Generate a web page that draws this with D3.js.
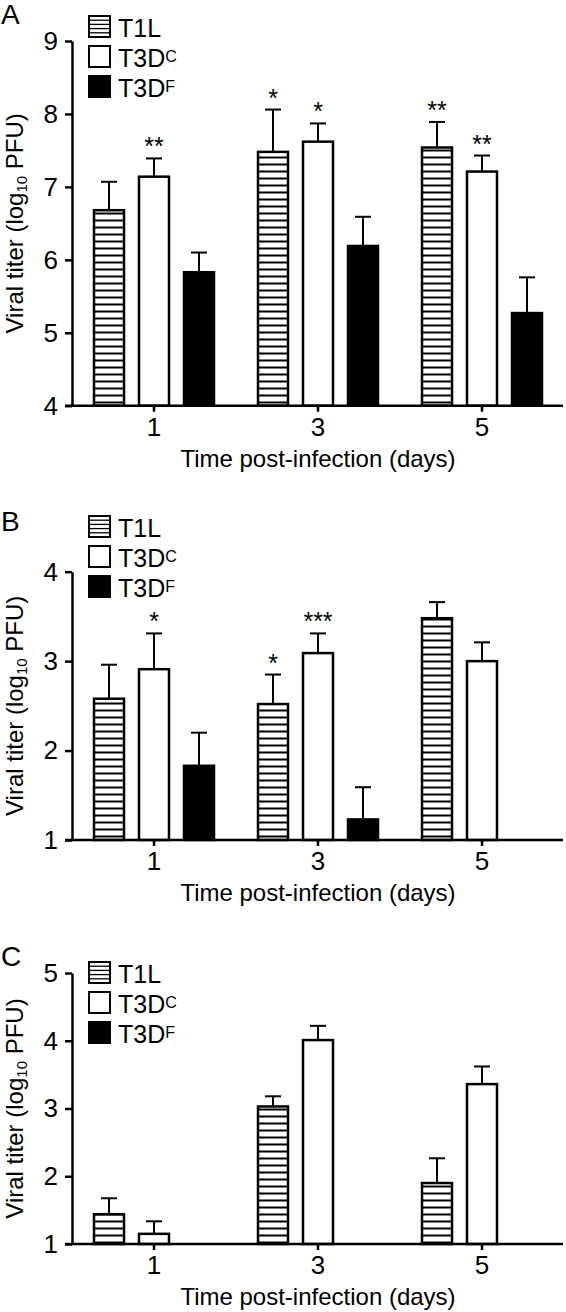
<!DOCTYPE html>
<html><head><meta charset="utf-8">
<script src="https://cdn.jsdelivr.net/npm/d3@7"></script>
<style>
body{margin:0;background:#fff}
svg{display:block}
text{font-family:"Liberation Sans",Arial,Helvetica,sans-serif;fill:#000}
</style>
</head><body>
<svg id="c" width="566" height="1312"></svg>
<script>
// ---------- data ----------
const days = ["1", "3", "5"];
const seriesKeys = ["T1L", "T3DC", "T3DF"];
const seriesBase = ["T1L", "T3D", "T3D"];
const seriesSup = ["", "C", "F"];

const ticksA = [4, 5, 6, 7, 8, 9];
const ticksB = [1, 2, 3, 4];
const ticksC = [1, 2, 3, 4, 5];

// Panel A (mean, SEM)
const A_T1L = [6.68, 7.48, 7.54];
const A_T1L_err = [0.39, 0.58, 0.35];
const A_T3DC = [7.14, 7.62, 7.21];
const A_T3DC_err = [0.25, 0.25, 0.22];
const A_T3DF = [5.83, 6.19, 5.27];
const A_T3DF_err = [0.27, 0.40, 0.49];
const A_stars_T1L = ["", "*", "**"];
const A_stars_T3DC = ["**", "*", "**"];
const A_stars_T3DF = ["", "", ""];

// Panel B
const B_T1L = [2.58, 2.52, 3.48];
const B_T1L_err = [0.38, 0.33, 0.18];
const B_T3DC = [2.91, 3.09, 3.00];
const B_T3DC_err = [0.40, 0.22, 0.21];
const B_T3DF = [1.83, 1.23, null];
const B_T3DF_err = [0.37, 0.36, null];
const B_stars_T1L = ["", "*", ""];
const B_stars_T3DC = ["*", "***", ""];
const B_stars_T3DF = ["", "", ""];

// Panel C
const C_T1L = [1.44, 3.03, 1.90];
const C_T1L_err = [0.235, 0.15, 0.365];
const C_T3DC = [1.15, 4.01, 3.36];
const C_T3DC_err = [0.185, 0.21, 0.26];
const C_T3DF = [null, null, null];
const C_T3DF_err = [null, null, null];
const C_stars_T1L = ["", "", ""];
const C_stars_T3DC = ["", "", ""];
const C_stars_T3DF = ["", "", ""];

const panelLabels = ["A", "B", "C"];
const xTitle = "Time post-infection (days)";

// ---------- layout ----------
const panels = [
  {label: "A", domain: [4, 9], ticks: ticksA, yBottom: 405.7, yTop: 41, legendTop: 16, labelY: 24,
   vals: [A_T1L, A_T3DC, A_T3DF], errs: [A_T1L_err, A_T3DC_err, A_T3DF_err], stars: [A_stars_T1L, A_stars_T3DC, A_stars_T3DF]},
  {label: "B", domain: [1, 4], ticks: ticksB, yBottom: 840, yTop: 571.7, legendTop: 516, labelY: 531,
   vals: [B_T1L, B_T3DC, B_T3DF], errs: [B_T1L_err, B_T3DC_err, B_T3DF_err], stars: [B_stars_T1L, B_stars_T3DC, B_stars_T3DF]},
  {label: "C", domain: [1, 5], ticks: ticksC, yBottom: 1244, yTop: 973, legendTop: 962, labelY: 966,
   vals: [C_T1L, C_T3DC, C_T3DF], errs: [C_T1L_err, C_T3DC_err, C_T3DF_err], stars: [C_stars_T1L, C_stars_T3DC, C_stars_T3DF]}
];

const svg = d3.select("#c");
const defs = svg.append("defs");
const pat = defs.append("pattern").attr("id", "hstripe")
  .attr("patternUnits", "userSpaceOnUse").attr("width", 10).attr("height", 7);
pat.append("rect").attr("width", 10).attr("height", 7).attr("fill", "#fff");
pat.append("rect").attr("y", 2.5).attr("width", 10).attr("height", 2).attr("fill", "#000");

const fills = ["url(#hstripe)", "#fff", "#000"];
const axisX0 = 72, axisX1 = 564;

panels.forEach(p => {
  const g = svg.append("g");
  const y = d3.scaleLinear().domain(p.domain).range([p.yBottom, p.yTop]);
  const x = d3.scaleBand().domain(days).range([axisX0, axisX1]);
  const xs = d3.scaleBand().domain(seriesKeys).range([0, x.bandwidth()])
    .paddingInner(1 / 3).paddingOuter(0.489);
  const base = p.domain[0];

  // bars
  seriesKeys.forEach((s, si) => {
    days.forEach((d, di) => {
      const v = p.vals[si][di];
      if (v == null) return;
      const bx = x(d) + xs(s);
      const cx = bx + xs.bandwidth() / 2;
      const e = p.errs[si][di];
      const top = y(v + e);
      // error bar
      g.append("line").attr("x1", cx).attr("x2", cx).attr("y1", y(v)).attr("y2", top)
        .attr("stroke", "#000").attr("stroke-width", 2);
      g.append("line").attr("x1", cx - 8).attr("x2", cx + 8).attr("y1", top).attr("y2", top)
        .attr("stroke", "#000").attr("stroke-width", 2);
      g.append("rect").attr("x", bx).attr("y", y(v))
        .attr("width", xs.bandwidth()).attr("height", y(base) - y(v))
        .attr("fill", fills[si]).attr("stroke", "#000").attr("stroke-width", 2.5);
      const st = p.stars[si][di];
      if (st) {
        g.append("text").attr("x", cx).attr("y", top - 3)
          .attr("text-anchor", "middle").attr("font-size", 25).text(st);
      }
    });
  });

  // y axis
  const ya = g.append("g").attr("transform", `translate(${axisX0},0)`)
    .call(d3.axisLeft(y).tickValues(p.ticks).tickFormat(d3.format("d"))
      .tickSize(7).tickSizeOuter(0).tickPadding(7));
  ya.selectAll("path,line").attr("stroke", "#000").attr("stroke-width", 2.5);
  ya.selectAll("text").attr("font-size", 26).attr("font-family", null);

  // x axis
  const xa = g.append("g").attr("transform", `translate(0,${p.yBottom})`)
    .call(d3.axisBottom(x).tickSize(6).tickSizeOuter(0).tickPadding(6));
  xa.select(".domain").remove();
  xa.selectAll("line").attr("stroke", "#000").attr("stroke-width", 2.5);
  xa.selectAll("text").attr("font-size", 26).attr("font-family", null);
  g.append("line").attr("x1", 65).attr("x2", 563).attr("y1", p.yBottom).attr("y2", p.yBottom)
    .attr("stroke", "#000").attr("stroke-width", 2.5);

  // x title
  g.append("text").attr("x", 318).attr("y", p.yBottom + 61).attr("text-anchor", "middle")
    .attr("font-size", 24).text(xTitle);

  // y title
  const yt = g.append("text")
    .attr("transform", `translate(23,${(p.yTop + p.yBottom) / 2}) rotate(-90)`)
    .attr("text-anchor", "middle").attr("font-size", 24);
  yt.append("tspan").text("Viral titer (log");
  yt.append("tspan").attr("font-size", 15).attr("dy", 4).text("10");
  yt.append("tspan").attr("dy", -4).text(" PFU)");

  // panel label
  g.append("text").attr("x", 1).attr("y", p.labelY).attr("font-size", 28).text(p.label);

  // legend
  seriesKeys.forEach((s, si) => {
    const ty = p.legendTop + si * 30;
    g.append("rect").attr("x", 89).attr("y", ty).attr("width", 21).attr("height", 21)
      .attr("fill", si === 2 ? "#000" : "#fff").attr("stroke", "#000").attr("stroke-width", 2);
    if (si === 0) {
      [1, 2, 3, 4].forEach(k => {
        g.append("line").attr("x1", 89).attr("x2", 110)
          .attr("y1", ty + k * 21 / 5).attr("y2", ty + k * 21 / 5)
          .attr("stroke", "#000").attr("stroke-width", 1.3);
      });
    }
    const t = g.append("text").attr("x", 118).attr("y", ty + 21).attr("font-size", 25);
    t.append("tspan").text(seriesBase[si]);
    if (seriesSup[si]) t.append("tspan").attr("font-size", 16).attr("dy", -5).text(seriesSup[si]);
  });
});
</script>
</body></html>
